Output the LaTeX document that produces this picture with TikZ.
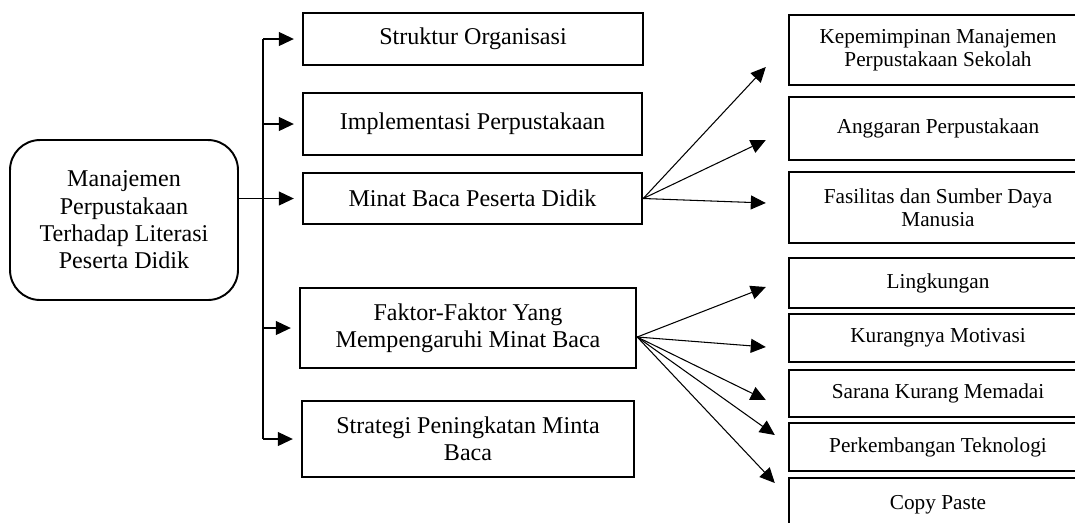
\documentclass[tikz,border=0pt]{standalone}
\usepackage{fontspec}
\setmainfont{Liberation Serif}
\usetikzlibrary{arrows.meta}
\usetikzlibrary{calc}

\tikzset{
  topic/.style={draw, line width=1.4pt, inner sep=0pt, align=center,
    font=\fontsize{13.7}{15.6}\selectfont},
  subtopic/.style={draw, line width=1.4pt, inner sep=0pt, align=center,
    minimum width=5.96cm, font=\fontsize{12.1}{13.3}\selectfont},
  link/.style={line width=0.6pt, -{Triangle[length=0.3cm,width=0.28cm]}},
}

\begin{document}
\begin{tikzpicture}[x=0.02cm, y=-0.02cm]

      \useasboundingbox (0,0) rectangle (1075,522);

      \node[topic, line width=1.1pt, rounded corners=0.6cm, minimum width=4.56cm, minimum height=3.2cm]
        (root) at (124,220) {Manajemen\\Perpustakaan\\Terhadap Literasi\\Peserta Didik};

      \node[topic, minimum width=6.8cm, minimum height=1.04cm] (struktur) at (473,39) {Struktur Organisasi};
      \node[topic, minimum width=6.78cm, minimum height=1.24cm] (implementasi) at (472.5,124) {Implementasi Perpustakaan};
      \node[topic, minimum width=6.78cm, minimum height=1.02cm] (minat) at (472.5,198.5) {Minat Baca Peserta Didik};
      \node[topic, minimum width=6.72cm, minimum height=1.6cm] (faktor) at (468,328) {Faktor-Faktor Yang\\Mempengaruhi Minat Baca};
      \node[topic, minimum width=6.64cm, minimum height=1.52cm] (strategi) at (468,439) {Strategi Peningkatan Minta\\Baca};

      \node[subtopic, minimum height=1.4cm] (kepemimpinan) at (938,50) {Kepemimpinan Manajemen\\Perpustakaan Sekolah};
      \node[subtopic, minimum height=1.26cm] (anggaran) at (938,128.5) {Anggaran Perpustakaan};
      \node[subtopic, minimum height=1.42cm] (fasilitas) at (938,207.5) {Fasilitas dan Sumber Daya\\Manusia};
      \node[subtopic, minimum height=1.0cm] (lingkungan) at (938,283) {Lingkungan};
      \node[subtopic, minimum height=0.96cm] (motivasi) at (938,338) {Kurangnya Motivasi};
      \node[subtopic, minimum height=0.94cm] (sarana) at (938,393.5) {Sarana Kurang Memadai};
      \node[subtopic, minimum height=0.96cm] (teknologi) at (938,447) {Perkembangan Teknologi};
      \node[subtopic, minimum height=1.08cm] (copypaste) at (938,505) {Copy Paste};

      % bus from the root
      \coordinate (bus) at (263,0);
      \draw[line width=0.6pt] (bus |- struktur) -- (bus |- strategi);
      \draw[link, shorten >=0.16cm] (root.east |- minat) -- (minat.west);
      \foreach \n in {struktur,implementasi,faktor,strategi}
        \draw[link, shorten >=0.16cm] (bus |- \n) -- (\n.west);

      \draw[link] (minat.east) -- ($(kepemimpinan.west)+(-22,17)$);
      \draw[link] (minat.east) -- ($(anggaran.west)+(-22,11.5)$);
      \draw[link] (minat.east) -- ($(fasilitas.west)+(-22,-4.5)$);

      \coordinate (faktorout) at ($(faktor.east)+(0,9)$);
      \draw[link] (faktorout) -- ($(lingkungan.west)+(-22,4)$);
      \draw[link] (faktorout) -- ($(motivasi.west)+(-22,9)$);
      \draw[link] (faktorout) -- ($(sarana.west)+(-22,6.5)$);
      \draw[link] (faktorout) -- ($(teknologi.west)+(-13,-12)$);
      \draw[link] (faktorout) -- ($(copypaste.west)+(-13,-22)$);
    \end{tikzpicture}
\end{document}
